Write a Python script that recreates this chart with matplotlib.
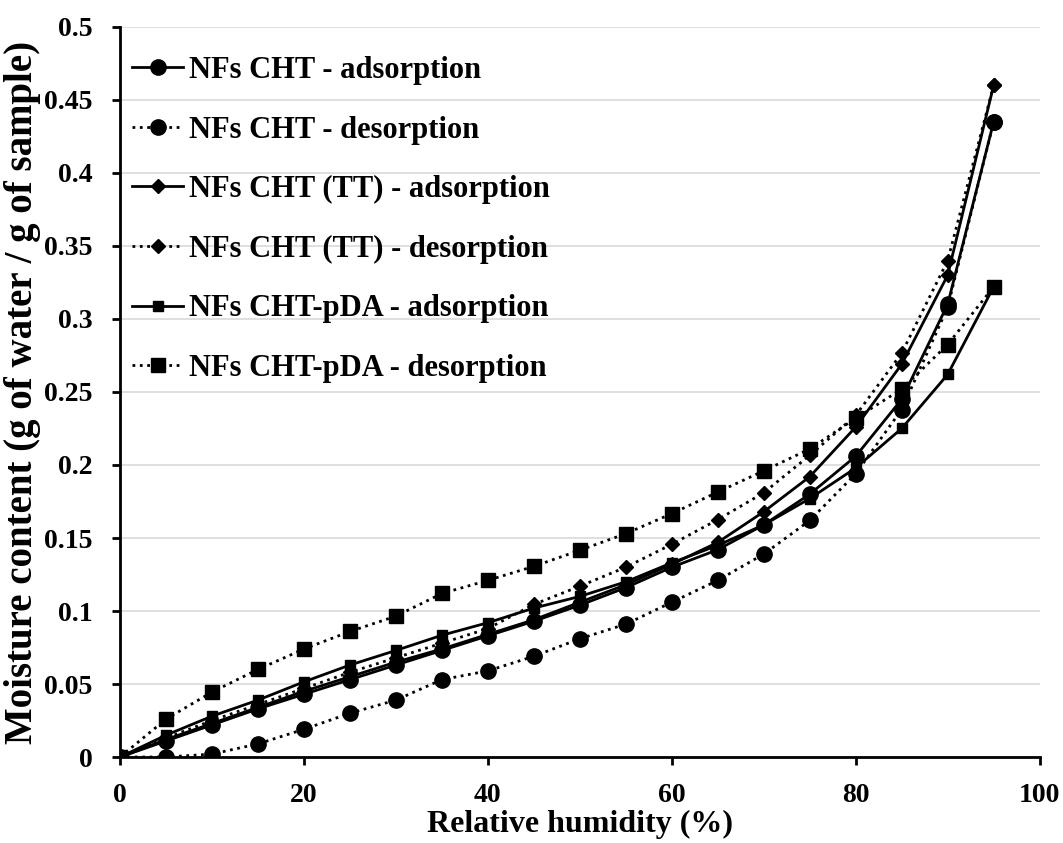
import numpy as np
import matplotlib.pyplot as plt

plt.rcParams["font.family"] = ["Liberation Serif", "DejaVu Serif"]
plt.rcParams["font.weight"] = "bold"

rh = [0, 5, 10, 15, 20, 25, 30, 35, 40, 45, 50, 55, 60, 65, 70, 75, 80, 85, 90, 95]

cht_ads = [0, 0.011, 0.022, 0.033, 0.043, 0.053, 0.063, 0.073, 0.083, 0.093,
           0.104, 0.116, 0.130, 0.142, 0.159, 0.180, 0.206, 0.245, 0.310, 0.435]
cht_des = [0, 0.0, 0.002, 0.009, 0.019, 0.030, 0.039, 0.053, 0.059, 0.069,
           0.081, 0.091, 0.106, 0.121, 0.139, 0.162, 0.194, 0.238, 0.308, 0.435]
tt_ads = [0, 0.012, 0.023, 0.034, 0.045, 0.055, 0.065, 0.074, 0.084, 0.094,
          0.106, 0.118, 0.132, 0.147, 0.168, 0.192, 0.226, 0.269, 0.330, 0.460]
tt_des = [0, 0.013, 0.025, 0.036, 0.047, 0.058, 0.068, 0.078, 0.088, 0.1045,
          0.117, 0.130, 0.1457, 0.1626, 0.181, 0.2066, 0.234, 0.2766, 0.340, 0.460]
pda_ads = [0, 0.015, 0.028, 0.039, 0.0515, 0.063, 0.073, 0.0834, 0.092, 0.102,
           0.110, 0.120, 0.133, 0.145, 0.159, 0.177, 0.198, 0.225, 0.262, 0.322]
pda_des = [0, 0.026, 0.0445, 0.060, 0.074, 0.086, 0.0965, 0.112, 0.121, 0.1306,
           0.1416, 0.153, 0.1667, 0.1815, 0.196, 0.211, 0.232, 0.252, 0.2825, 0.322]

labels = ["NFs CHT - adsorption", "NFs CHT - desorption",
          "NFs CHT (TT) - adsorption", "NFs CHT (TT) - desorption",
          "NFs CHT-pDA - adsorption", "NFs CHT-pDA - desorption"]

series = [cht_ads, cht_des, tt_ads, tt_des, pda_ads, pda_des]
styles = [("-", "o", 11), (":", "o", 11), ("-", "D", 7.5), (":", "D", 7.5),
          ("-", "s", 7.5), (":", "s", 9.5)]

fig = plt.figure(figsize=(10.63, 8.43), dpi=100)
ax = fig.add_axes([0.113, 0.102, 0.865, 0.866])

for ys, lab, (ls, mk, ms) in zip(series, labels, styles):
    ax.plot(rh, ys, linestyle=ls, marker=mk, markersize=ms, color="black",
            linewidth=2, label=lab, zorder=3)

ax.set_xlim(0, 100)
ax.set_ylim(0, 0.5)
ax.set_xticks([0, 20, 40, 60, 80, 100])
ax.set_yticks(np.arange(0, 0.51, 0.05))
ax.set_yticklabels(["0", "0.05", "0.1", "0.15", "0.2", "0.25", "0.3",
                    "0.35", "0.4", "0.45", "0.5"])
ax.tick_params(axis="both", labelsize=20, width=2, length=6, direction="out")
ax.tick_params(axis="x", pad=13)
ax.tick_params(axis="y", pad=14)
ax.grid(True, axis="y", color="#d9d9d9", linewidth=1.2)
ax.set_axisbelow(True)
for s in ["top", "right"]:
    ax.spines[s].set_visible(False)
for s in ["left", "bottom"]:
    ax.spines[s].set_linewidth(2)

ax.set_xlabel("Relative humidity (%)", fontsize=23, fontweight="bold", labelpad=1)
ax.set_ylabel("Moisture content (g of water / g of sample)", fontsize=28,
              fontweight="bold", labelpad=2)

ax.legend(loc="upper left", bbox_to_anchor=(0.0, 0.977), frameon=False,
          fontsize=22, handlelength=1.65, labelspacing=1.0, handletextpad=0.2,
          borderaxespad=0.0)

fig.savefig("out.png", dpi=100)
